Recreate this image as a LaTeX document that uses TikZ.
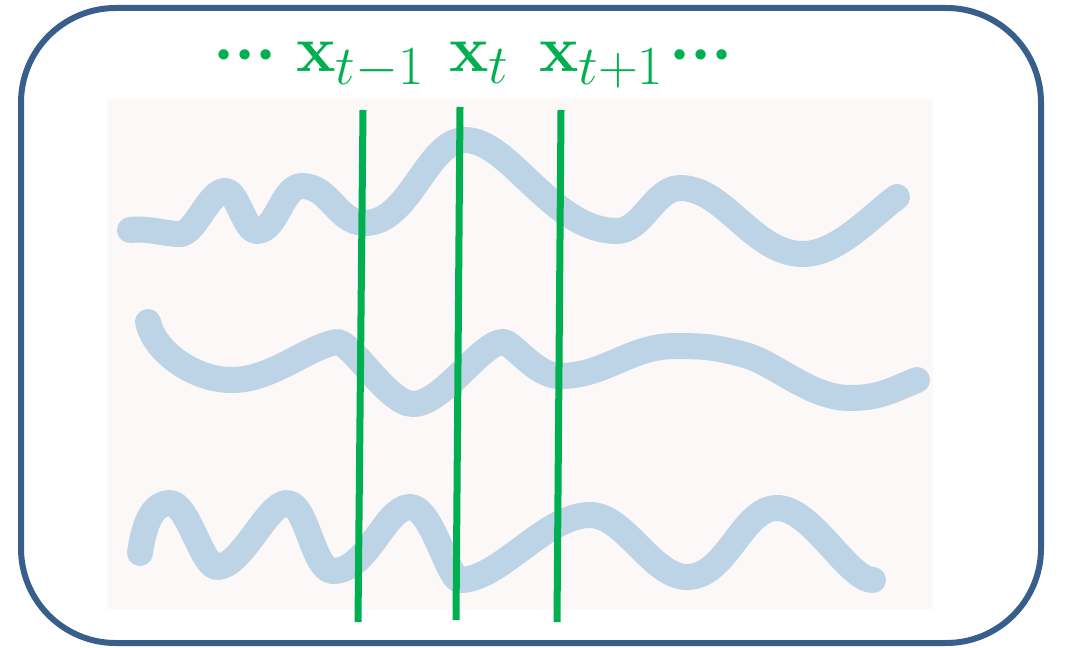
\documentclass[tikz,border=0pt]{standalone}
\usepackage{graphicx}
\usepackage{amsmath}
\definecolor{frameblue}{RGB}{56,94,140}
\definecolor{paper}{RGB}{251,248,247}
\definecolor{wave}{RGB}{189,212,231}
\definecolor{mygreen}{RGB}{0,176,80}
\newcommand{\biglbl}[1]{\scalebox{2.0}{\Huge #1}}
\begin{document}
\begin{tikzpicture}[x=0.75pt,y=-0.75pt,
  wavestyle/.style={draw=wave,line width=19.5pt,line cap=round,line join=round},
  gline/.style={draw=mygreen,line width=5.25pt},
  lbl/.style={text=mygreen,inner sep=0pt}]
\useasboundingbox (0,0) rectangle (1066,648);
\draw[frameblue,line width=4.5pt,rounded corners=71pt] (21,8) rectangle (1041,643);
\fill[paper] (107,99) rectangle (933,609);
% waves
\draw[wavestyle] (130,230)
  .. controls +(20,-2) and +(-15,0) .. (180,234)
  .. controls +(15,0) and +(-16,0) .. (225,191)
  .. controls +(13,0) and +(-13,0) .. (257,231)
  .. controls +(20,0) and +(-20,0) .. (302,186)
  .. controls +(28,0) and +(-28,0) .. (365,223)
  .. controls +(45,0) and +(-38,0) .. (465,140)
  .. controls +(45,0) and +(-65,0) .. (617,231)
  .. controls +(25,0) and +(-25,0) .. (680,188)
  .. controls +(45,0) and +(-50,0) .. (803,254)
  .. controls +(35,0) and +(-25,18) .. (897,197);
\draw[wavestyle] (148,322)
  .. controls +(6,28) and +(-40,0) .. (232,380)
  .. controls +(40,0) and +(-30,5) .. (337,342)
  .. controls +(15,0) and +(-25,0) .. (413,404)
  .. controls +(30,0) and +(-22,0) .. (503,342)
  .. controls +(10,0) and +(-25,0) .. (560,376)
  .. controls +(45,0) and +(-45,0) .. (675,346)
  .. controls +(30,0) and +(-30,-8) .. (745,355)
  .. controls +(30,8) and +(-40,0) .. (850,398)
  .. controls +(30,0) and +(-25,10) .. (917,380);
\draw[wavestyle] (140,553)
  .. controls +(5,-35) and +(-15,0) .. (170,503)
  .. controls +(18,0) and +(-15,0) .. (217,567)
  .. controls +(25,0) and +(-20,0) .. (287,503)
  .. controls +(20,0) and +(-20,0) .. (333,571)
  .. controls +(35,0) and +(-25,0) .. (410,507)
  .. controls +(22,0) and +(-12,0) .. (460,580)
  .. controls +(40,0) and +(-45,0) .. (590,515)
  .. controls +(35,0) and +(-35,0) .. (687,577)
  .. controls +(40,0) and +(-35,0) .. (777,508)
  .. controls +(35,0) and +(-25,0) .. (873,580);
% green lines
\coordinate (a1) at (363,110); \coordinate (a2) at (358,622);
\coordinate (b1) at (460,107); \coordinate (b2) at (456,620);
\coordinate (c1) at (561,110); \coordinate (c2) at (557,622);
\draw[gline] (a1) -- (a2);
\draw[gline] (b1) -- (b2);
\draw[gline] (c1) -- (c2);
% labels
\node[lbl,anchor=base] (d1) at (245,72) {\biglbl{$\boldsymbol{{\cdot}{\cdot}{\cdot}}$}};
\node[lbl,anchor=base west] (xtm) at (296,72) {\biglbl{$\mathbf{x}_{t-1}$}};
\node[lbl,anchor=base west] (xt) at (449,72) {\biglbl{$\mathbf{x}_{t}$}};
\node[lbl,anchor=base west] (xtp) at (539,72) {\biglbl{$\mathbf{x}_{t+1}$}};
\node[lbl,anchor=base] (d2) at (701,72) {\biglbl{$\boldsymbol{{\cdot}{\cdot}{\cdot}}$}};
\end{tikzpicture}
\end{document}
